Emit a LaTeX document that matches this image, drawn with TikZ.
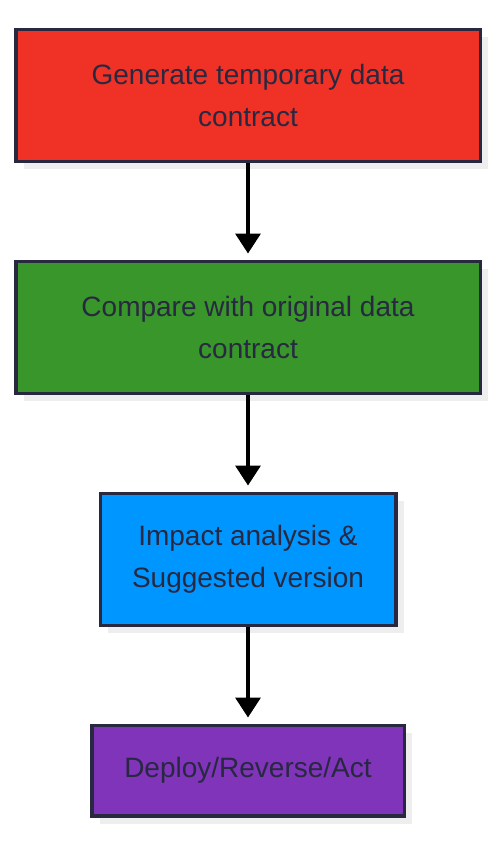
\documentclass[tikz,border=0pt]{standalone}
\usepackage{fontspec}
\setmainfont{Liberation Sans}
\usepackage{tikz}
\usetikzlibrary{positioning,shadows,arrows.meta}
\usepackage{xcolor}
\definecolor{genred}{RGB}{240,50,38}
\definecolor{cmpgreen}{RGB}{57,150,42}
\definecolor{impblue}{RGB}{0,150,255}
\definecolor{actpurple}{RGB}{128,52,186}
\definecolor{boxline}{RGB}{40,40,64}
\definecolor{shadowgray}{RGB}{238,238,238}
\newcommand{\flowtext}{\fontsize{28}{42}\selectfont\color{boxline}}

\begin{document}
\begin{tikzpicture}[x=1pt,y=1pt, node distance=96.5pt,
        flowbox/.style={draw=boxline, line width=3.5pt, rectangle, align=center,
                inner sep=0pt, font=\flowtext, minimum height=132pt,
                drop shadow={shadow xshift=8pt, shadow yshift=-8pt, fill=shadowgray, opacity=1}},
        flowarrow/.style={line width=3.5pt, -{Triangle[width=25pt,length=20pt]}, shorten >=6pt}]
        \useasboundingbox (0,0) rectangle (496,-844);

        \node (gen) [flowbox, fill=genred, minimum width=464.5pt, anchor=north] at (248,-27.5)
                {Generate temporary data\\contract};
        \node (cmp) [flowbox, fill=cmpgreen, minimum width=464.5pt, below=of gen]
                {Compare with original data\\contract};
        \node (imp) [flowbox, fill=impblue, minimum width=295.5pt, below=of cmp]
                {Impact analysis \&\\Suggested version};
        \node (act) [flowbox, fill=actpurple, minimum width=312.5pt, minimum height=90.5pt, below=of imp]
                {Deploy/Reverse/Act};

        % arrows down the column
        \draw[flowarrow] (gen) -- (cmp);
        \draw[flowarrow] (cmp) -- (imp);
        \draw[flowarrow] (imp) -- (act);
\end{tikzpicture}
\end{document}
